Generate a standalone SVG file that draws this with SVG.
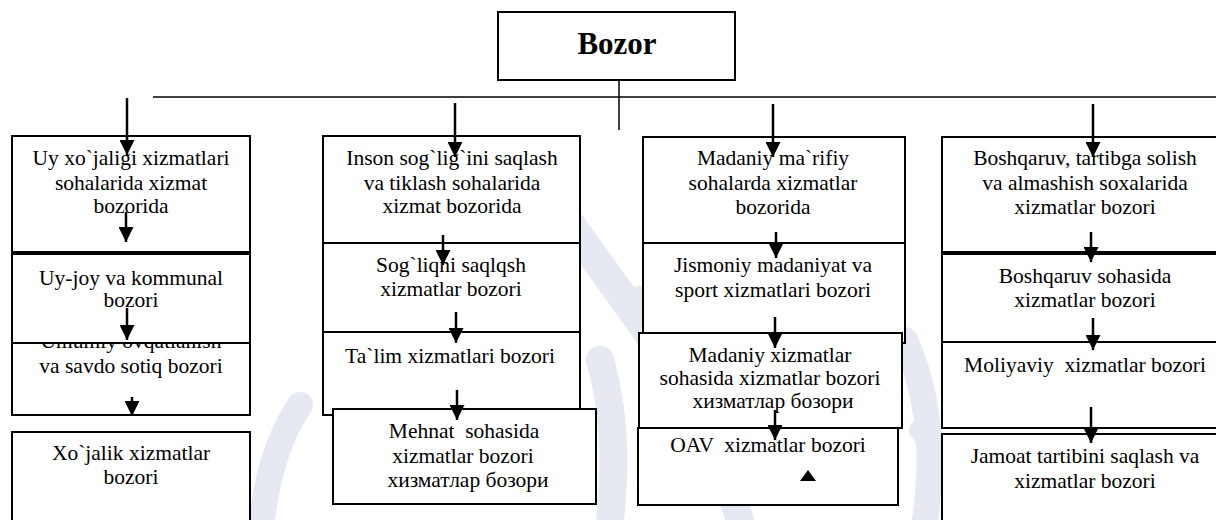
<svg xmlns="http://www.w3.org/2000/svg" width="1216" height="520" viewBox="0 0 1216 520">
<style>
.bx{fill:#fff;stroke:#000;stroke-width:2}
.t{font-family:"Liberation Serif","Times New Roman",serif;font-size:21.5px;text-anchor:middle;fill:#000;white-space:pre}
.tb{font-family:"Liberation Serif","Times New Roman",serif;font-size:31px;font-weight:bold;text-anchor:middle;fill:#000}
.ln{stroke:#000;stroke-width:1.5;fill:none}
.ar{stroke:#000;stroke-width:2.5;fill:none;marker-end:url(#ah)}
.wm{stroke:#e6e9f2;fill:none;stroke-linecap:round}
</style>
<defs>
<marker id="ah" viewBox="0 0 15 15" refX="15" refY="7.5" markerWidth="15" markerHeight="15" markerUnits="userSpaceOnUse" orient="auto">
<path d="M0,0 L15,7.5 L0,15 z" fill="#000"/>
</marker>
</defs>
<rect width="1216" height="520" fill="#fff"/>
<g id="watermark">
<path class="wm" stroke-width="26" d="M262,520 Q270,450 300,405"/>
<path class="wm" stroke-width="30" d="M560,210 L650,335"/>
<path class="wm" stroke-width="28" d="M600,360 Q620,430 610,520"/>
<path class="wm" stroke-width="28" d="M640,300 Q700,400 740,520"/>
<path class="wm" stroke-width="26" d="M905,340 Q940,420 925,520"/>
<path class="wm" stroke-width="22" d="M920,430 Q935,450 945,470"/>
</g>
<g id="bozor">
<rect class="bx" x="498" y="12" width="237" height="68"/>
<text class="tb" x="617" y="54">Bozor</text>
</g>
<g id="L1">
<rect class="bx" x="12" y="136" width="238" height="116"/>
<text class="t" x="131" y="165">Uy xo`jaligi xizmatlari</text>
<text class="t" x="131" y="190">sohalarida xizmat</text>
<text class="t" x="131" y="213">bozorida</text>
</g>
<g id="L3">
<rect class="bx" x="12" y="320" width="238" height="95"/>
<text class="t" x="131" y="348">Umumiy ovqatlanish</text>
<text class="t" x="131" y="373">va savdo sotiq bozori</text>
</g>
<g id="L2">
<rect class="bx" x="12" y="254" width="238" height="89"/>
<text class="t" x="131" y="285">Uy-joy va kommunal</text>
<text class="t" x="131" y="307">bozori</text>
</g>
<g id="L4">
<rect class="bx" x="12" y="432" width="238" height="100"/>
<text class="t" x="131" y="460">Xo`jalik xizmatlar</text>
<text class="t" x="131" y="484">bozori</text>
</g>
<g id="M1">
<rect class="bx" x="323" y="136" width="257" height="107"/>
<text class="t" x="452" y="165">Inson sog`lig`ini saqlash</text>
<text class="t" x="452" y="190">va tiklash sohalarida</text>
<text class="t" x="452" y="213">xizmat bozorida</text>
</g>
<g id="M2">
<rect class="bx" x="323" y="243" width="257" height="89"/>
<text class="t" x="451" y="272">Sog`liqni saqlqsh</text>
<text class="t" x="451" y="296">xizmatlar bozori</text>
</g>
<g id="M3">
<rect class="bx" x="323" y="332" width="257" height="83"/>
<text class="t" x="450" y="363">Ta`lim xizmatlari bozori</text>
</g>
<g id="M4">
<rect class="bx" x="333" y="409" width="263" height="95"/>
<text class="t" x="464" y="438" xml:space="preserve">Mehnat  sohasida</text>
<text class="t" x="463" y="463">xizmatlar bozori</text>
<text class="t" x="468" y="487">хизматлар бозори</text>
</g>
<g id="D1">
<rect class="bx" x="643" y="137" width="262" height="106"/>
<text class="t" x="773" y="165">Madaniy ma`rifiy</text>
<text class="t" x="773" y="190">sohalarda xizmatlar</text>
<text class="t" x="773" y="214">bozorida</text>
</g>
<g id="D2">
<rect class="bx" x="643" y="243" width="262" height="100"/>
<text class="t" x="773" y="272">Jismoniy madaniyat va</text>
<text class="t" x="773" y="297">sport xizmatlari bozori</text>
</g>
<g id="D4">
<rect class="bx" x="638" y="428" width="260" height="77"/>
<text class="t" x="768" y="452" xml:space="preserve">OAV  xizmatlar bozori</text>
<polygon points="800,481 816,481 808,470" fill="#000"/>
</g>
<g id="D3">
<rect class="bx" x="639" y="333" width="263" height="95"/>
<text class="t" x="770" y="362">Madaniy xizmatlar</text>
<text class="t" x="770" y="385">sohasida xizmatlar bozori</text>
<text class="t" x="773" y="408">хизматлар бозори</text>
</g>
<g id="R1">
<rect class="bx" x="942" y="137" width="290" height="115"/>
<text class="t" x="1085" y="165">Boshqaruv, tartibga solish</text>
<text class="t" x="1085" y="190">va almashish soxalarida</text>
<text class="t" x="1085" y="214">xizmatlar bozori</text>
</g>
<g id="R2">
<rect class="bx" x="942" y="254" width="290" height="88"/>
<text class="t" x="1085" y="283">Boshqaruv sohasida</text>
<text class="t" x="1085" y="307">xizmatlar bozori</text>
</g>
<g id="R3">
<rect class="bx" x="942" y="342" width="290" height="86"/>
<text class="t" x="1085" y="372" xml:space="preserve">Moliyaviy  xizmatlar bozori</text>
</g>
<g id="R4">
<rect class="bx" x="942" y="434" width="290" height="100"/>
<text class="t" x="1085" y="463">Jamoat tartibini saqlash va</text>
<text class="t" x="1085" y="488">xizmatlar bozori</text>
</g>
<g id="connectors">
<line class="ln" x1="619" y1="80" x2="619" y2="130"/>
<line class="ln" x1="153" y1="97" x2="1216" y2="97"/>
<line class="ar" x1="127" y1="98" x2="127" y2="155"/>
<line class="ar" x1="126" y1="212" x2="126" y2="242"/>
<line class="ar" x1="127" y1="308" x2="127" y2="340"/>
<line class="ar" x1="132" y1="397" x2="132" y2="416"/>
<line class="ar" x1="455" y1="103" x2="455" y2="157"/>
<line class="ar" x1="443" y1="235" x2="443" y2="265"/>
<line class="ar" x1="456" y1="312" x2="456" y2="343"/>
<line class="ar" x1="457" y1="390" x2="457" y2="420"/>
<line class="ar" x1="773" y1="104" x2="773" y2="157"/>
<line class="ar" x1="776" y1="232" x2="776" y2="258"/>
<line class="ar" x1="775" y1="317" x2="775" y2="348"/>
<line class="ar" x1="775" y1="410" x2="775" y2="440"/>
<line class="ar" x1="1093" y1="104" x2="1093" y2="157"/>
<line class="ar" x1="1091" y1="232" x2="1091" y2="262"/>
<line class="ar" x1="1093" y1="318" x2="1093" y2="350"/>
<line class="ar" x1="1091" y1="407" x2="1091" y2="443"/>
</g>
</svg>
